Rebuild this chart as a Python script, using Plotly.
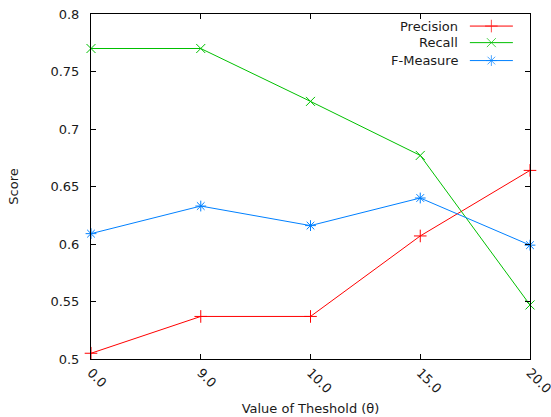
import plotly.graph_objects as go

thresholds = ["0.0", "9.0", "10.0", "15.0", "20.0"]
precision = [0.505, 0.537, 0.537, 0.607, 0.664]
recall = [0.770, 0.770, 0.724, 0.677, 0.547]
fmeasure = [0.609, 0.633, 0.616, 0.640, 0.599]

series_names = ["Precision", "Recall", "F-Measure"]
series_values = [precision, recall, fmeasure]
colors = ["#ff0000", "#00c000", "#0080ff"]
symbols = ["cross-thin", "x-thin", "asterisk"]

font = dict(family="DejaVu Sans", size=13, color="#1a1a1a")

fig = go.Figure()
for name, vals, col, sym in zip(series_names, series_values, colors, symbols):
    fig.add_trace(go.Scatter(
        x=thresholds, y=vals, name=name, mode="lines+markers",
        line=dict(color=col, width=1),
        marker=dict(symbol=sym, size=9, color=col, line=dict(color=col, width=1)),
        showlegend=False, cliponaxis=False,
    ))

# custom gnuplot-style key (text, then sample)
key_rows = [0.965, 0.917, 0.865]
for name, col, sym, yk in zip(series_names, colors, symbols, key_rows):
    fig.add_trace(go.Scatter(
        x=[0.863, 0.912, 0.961], y=[yk, yk, yk], xaxis="x2", yaxis="y2",
        mode="lines+markers", line=dict(color=col, width=1),
        marker=dict(symbol=sym, size=[0, 9, 0], color=col, line=dict(color=col, width=1)),
        showlegend=False, hoverinfo="skip",
    ))
    fig.add_annotation(x=0.84, y=yk, xref="paper", yref="paper", text=name,
                       showarrow=False, xanchor="right", yanchor="middle", font=font)

fig.update_layout(
    width=551, height=417,
    margin=dict(l=91, r=21, t=14, b=58),
    paper_bgcolor="white", plot_bgcolor="white",
    font=font,
    xaxis=dict(
        type="category", range=[0, 4], showgrid=False, zeroline=False,
        showline=True, linecolor="black", linewidth=1, mirror="ticks",
        ticks="inside", ticklen=5, tickcolor="black", tickangle=45,
        title=dict(text="Value of Theshold (θ)", standoff=8, font=font),
        tickfont=font, automargin=False,
    ),
    yaxis=dict(
        range=[0.5, 0.8], dtick=0.05, showgrid=False, zeroline=False,
        showline=True, linecolor="black", linewidth=1, mirror="ticks",
        ticks="inside", ticklen=5, tickcolor="black", ticklabelstandoff=8,
        title=dict(text="Score", standoff=28, font=font),
        tickfont=font, tickformat="~g", automargin=False,
    ),
    xaxis2=dict(overlaying="x", range=[0, 1], visible=False, anchor="y2"),
    yaxis2=dict(overlaying="y", range=[0, 1], visible=False, anchor="x2"),
)

fig.write_html("out.html")
